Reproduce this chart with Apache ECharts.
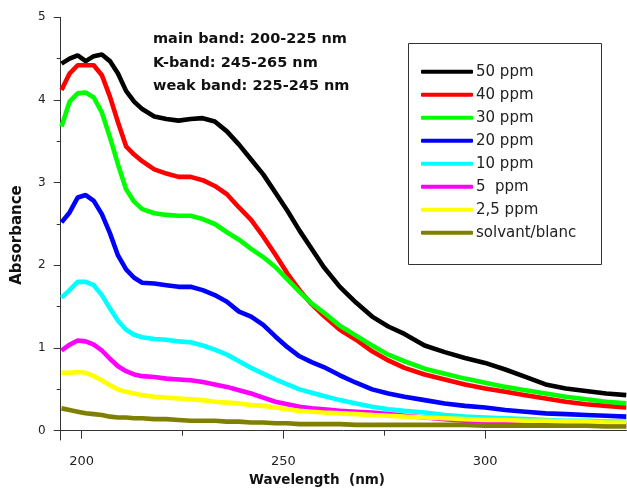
<!DOCTYPE html>
<html>
<head>
<meta charset="utf-8">
<script src="https://cdn.jsdelivr.net/npm/echarts@6/dist/echarts.min.js"></script>
<style>html,body{margin:0;padding:0;background:#fff;}#c{width:627px;height:489px;}</style>
</head>
<body>
<div id="c"></div>
<script>
const wavelength = [195,197,199,201,203,205,207,209,211,213,215,218,221,224,227,230,233,236,239,242,245,248,251,254,257,260,264,268,272,276,280,285,290,295,300,305,310,315,320,325,330,335];
const ppm50 = [4.44,4.50,4.54,4.47,4.53,4.55,4.47,4.32,4.11,3.98,3.89,3.80,3.77,3.75,3.77,3.78,3.74,3.62,3.46,3.28,3.10,2.88,2.66,2.42,2.20,1.98,1.74,1.55,1.38,1.26,1.17,1.03,0.95,0.88,0.82,0.74,0.65,0.56,0.51,0.48,0.45,0.43];
const ppm40 = [4.12,4.32,4.42,4.42,4.42,4.30,4.04,3.73,3.44,3.34,3.26,3.16,3.11,3.07,3.07,3.03,2.96,2.86,2.70,2.55,2.35,2.13,1.90,1.70,1.53,1.39,1.22,1.10,0.96,0.85,0.76,0.68,0.62,0.56,0.51,0.47,0.43,0.39,0.35,0.32,0.30,0.28];
const ppm30 = [3.68,3.98,4.08,4.09,4.03,3.85,3.55,3.22,2.92,2.77,2.68,2.63,2.61,2.60,2.60,2.56,2.50,2.40,2.31,2.20,2.10,1.98,1.83,1.68,1.54,1.43,1.27,1.15,1.03,0.92,0.84,0.75,0.69,0.63,0.58,0.53,0.49,0.45,0.41,0.38,0.35,0.33];
const ppm20 = [2.52,2.64,2.82,2.85,2.78,2.62,2.39,2.12,1.95,1.85,1.79,1.78,1.76,1.74,1.74,1.70,1.64,1.56,1.44,1.38,1.28,1.14,1.01,0.90,0.83,0.77,0.67,0.58,0.50,0.45,0.41,0.37,0.33,0.30,0.28,0.25,0.23,0.21,0.20,0.19,0.18,0.17];
const ppm10 = [1.61,1.70,1.80,1.80,1.76,1.64,1.48,1.33,1.22,1.16,1.13,1.11,1.10,1.08,1.07,1.03,0.98,0.92,0.84,0.76,0.69,0.62,0.56,0.50,0.46,0.42,0.37,0.33,0.29,0.26,0.24,0.22,0.19,0.17,0.16,0.15,0.14,0.13,0.12,0.12,0.11,0.11];
const ppm5 = [0.97,1.04,1.09,1.08,1.04,0.97,0.87,0.78,0.72,0.68,0.66,0.65,0.63,0.62,0.61,0.59,0.56,0.53,0.49,0.45,0.40,0.35,0.32,0.29,0.27,0.26,0.24,0.23,0.22,0.20,0.18,0.16,0.14,0.12,0.11,0.10,0.09,0.09,0.08,0.08,0.07,0.07];
const ppm2_5 = [0.70,0.70,0.71,0.70,0.66,0.61,0.55,0.50,0.47,0.45,0.43,0.41,0.40,0.39,0.38,0.37,0.35,0.34,0.33,0.31,0.30,0.28,0.26,0.24,0.23,0.22,0.21,0.20,0.19,0.18,0.17,0.16,0.15,0.14,0.13,0.13,0.12,0.12,0.11,0.11,0.10,0.10];
const blank = [0.27,0.25,0.23,0.21,0.20,0.19,0.17,0.16,0.16,0.15,0.15,0.14,0.14,0.13,0.12,0.12,0.12,0.11,0.11,0.10,0.10,0.09,0.09,0.08,0.08,0.08,0.08,0.07,0.07,0.07,0.07,0.07,0.07,0.07,0.06,0.06,0.06,0.06,0.06,0.06,0.05,0.05];

const seriesNames = ['50 ppm','40 ppm','30 ppm','20 ppm','10 ppm','5  ppm','2,5 ppm','solvant/blanc'];
const seriesValues = [ppm50, ppm40, ppm30, ppm20, ppm10, ppm5, ppm2_5, blank];
const seriesColors = ['#000000','#ff0000','#00ff00','#0000ff','#00ffff','#ff00ff','#ffff00','#808000'];
const xMajorTicks = [200, 250, 300];
const xMinorTicks = [225, 275];
const yMajorTicks = [0, 1, 2, 3, 4, 5];
const yMinorTicks = [0.5, 1.5, 2.5, 3.5, 4.5];
const notes = ['main band: 200-225 nm', 'K-band: 245-265 nm', 'weak band: 225-245 nm'];

const chart = echarts.init(document.getElementById('c'), null, {renderer: 'canvas'});
const axisCol = '#333333';
const fontFam = 'DejaVu Sans';

const series = seriesNames.map((n, i) => ({
  name: n,
  type: 'line',
  xAxisIndex: 0, yAxisIndex: 0,
  showSymbol: false,
  symbol: 'none',
  data: wavelength.map((w, k) => [w, seriesValues[i][k]]),
  lineStyle: {color: seriesColors[i], width: 4.6},
  itemStyle: {color: seriesColors[i]},
  z: 2 + i
}));

const option = {
  animation: false,
  backgroundColor: '#ffffff',
  grid: {left: 60.7, top: 17.3, right: 0.7, bottom: 49, containLabel: false},
  xAxis: [{
    type: 'value', min: 194.8, max: 335,
    axisLine: {show: true, lineStyle: {color: axisCol, width: 1}},
    axisTick: {show: true, length: 8, inside: false, customValues: xMajorTicks, lineStyle: {color: axisCol}},
    axisLabel: {customValues: xMajorTicks, color: '#222', fontSize: 13, fontFamily: fontFam, margin: 15},
    splitLine: {show: false}
  }, {
    type: 'value', min: 194.8, max: 335, position: 'bottom',
    axisLine: {show: false},
    axisTick: {show: true, length: 5, inside: false, customValues: xMinorTicks, lineStyle: {color: axisCol}},
    axisLabel: {show: false},
    splitLine: {show: false}
  }],
  yAxis: [{
    type: 'value', min: -0.1125, max: 5,
    axisLine: {show: true, lineStyle: {color: axisCol, width: 1}},
    axisTick: {show: true, length: 7, inside: false, customValues: yMajorTicks, lineStyle: {color: axisCol}},
    axisLabel: {customValues: yMajorTicks, color: '#222', fontSize: 12, fontFamily: fontFam, margin: 15},
    splitLine: {show: false}
  }, {
    type: 'value', min: -0.1125, max: 5, position: 'left',
    axisLine: {show: false},
    axisTick: {show: true, length: 4, inside: false, customValues: yMinorTicks, lineStyle: {color: axisCol}},
    axisLabel: {show: false},
    splitLine: {show: false}
  }],
  legend: {
    data: seriesNames,
    orient: 'vertical',
    left: 421, top: 60.2,
    padding: 0,
    itemWidth: 52, itemHeight: 4,
    itemGap: 0,
    icon: 'roundRect',
    textStyle: {fontSize: 15, fontFamily: fontFam, color: '#222', lineHeight: 23, padding: [0,0,0,-2]},
    selectedMode: false
  },
  graphic: [
    {type: 'rect', left: 406, top: 41, shape: {width: 193, height: 221}, style: {fill: 'none', stroke: '#333', lineWidth: 1}, z: 1},
    ...notes.map((t, i) => ({type: 'text', x: 153, y: [39, 63, 86][i], style: {text: t, font: 'bold 14.5px "DejaVu Sans"', fill: '#111', verticalAlign: 'middle', align: 'left'}, z: 10})),
    {type: 'text', x: 317, y: 480, style: {text: 'Wavelength  (nm)', font: 'bold 13.5px "DejaVu Sans"', fill: '#111', align: 'center', verticalAlign: 'middle'}},
    {type: 'text', x: 17, y: 235, rotation: Math.PI / 2, style: {text: 'Absorbance', font: 'bold 15px "DejaVu Sans"', fill: '#111', align: 'center', verticalAlign: 'middle'}}
  ],
  series: series
};
chart.setOption(option);
</script>
</body>
</html>
